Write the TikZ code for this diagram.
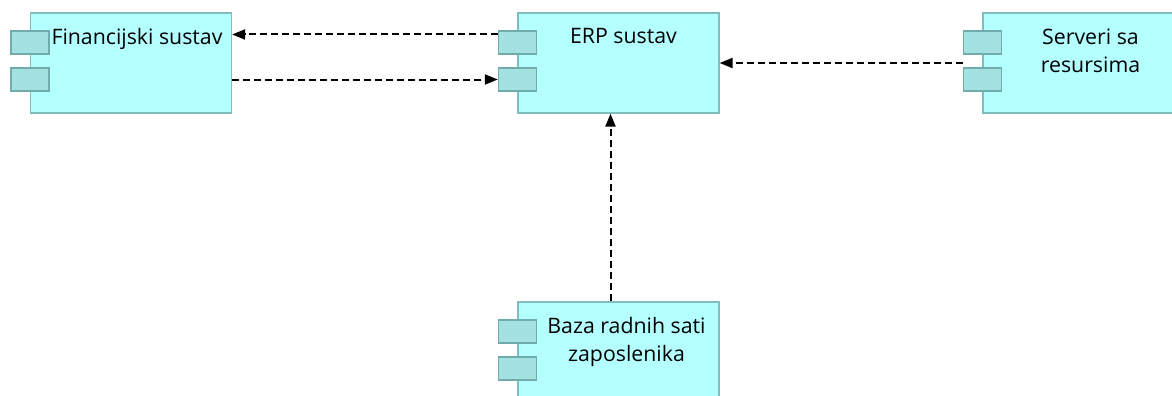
\documentclass[tikz,border=0pt]{standalone}
\usepackage{fontspec}
\setmainfont{Open Sans}
\usetikzlibrary{arrows.meta}
\definecolor{compfill}{RGB}{180,255,255}
\definecolor{compline}{RGB}{128,190,190}
\definecolor{partfill}{RGB}{164,226,226}
\definecolor{partline}{RGB}{112,172,172}

\begin{document}
\begin{tikzpicture}[x=1pt,y=-1pt,
  comp/.style={draw=compline, fill=compfill, line width=1.2pt, minimum width=201pt, minimum height=100pt, inner sep=0pt},
  part/.style={draw=partline, fill=partfill, line width=1.2pt, minimum width=38pt, minimum height=23pt, inner sep=0pt},
  label/.style={anchor=north, align=center, inner sep=0pt, font=\fontsize{21.3}{28}\selectfont},
  flow/.style={draw=black, line width=2pt, dash pattern=on 7pt off 4pt, -{Triangle[length=13pt,width=10pt]}}]
\useasboundingbox (0,0) rectangle (1172,396);
% components
\foreach \n/\x/\y in {fin/131/63, erp/618.5/63, srv/1083.5/63, baz/618.5/352}
{	\node[comp] (\n) at (\x,\y) {};
	\node[part] (\n1) at ([yshift=20.5pt]\n.west) {};
	\node[part] (\n2) at ([yshift=-16.5pt]\n.west) {};
}
\node[label] (finlab) at ([xshift=6pt,yshift=-16pt]fin.north) {Financijski sustav};
\node[label] (erplab) at ([xshift=5pt,yshift=-16pt]erp.north) {ERP sustav};
\node[label] (srvlab) at ([xshift=7pt,yshift=-16pt]srv.north) {Serveri sa\\resursima};
\node[label] (bazlab) at ([xshift=8pt,yshift=-16pt]baz.north) {Baza radnih sati\\zaposlenika};
% connectors
\coordinate (t1) at ([yshift=8pt]erp1.west);
\draw[flow] (t1) -- (t1 -| fin.east);
\draw[flow] (fin.east |- erp2.west) -- (erp2.west);
\draw[flow] (srv.west -| srv1.west) -- (erp.east);
\draw[flow] ([xshift=-8pt]baz.north) -- ([xshift=-8pt]erp.south);
\end{tikzpicture}
\end{document}
